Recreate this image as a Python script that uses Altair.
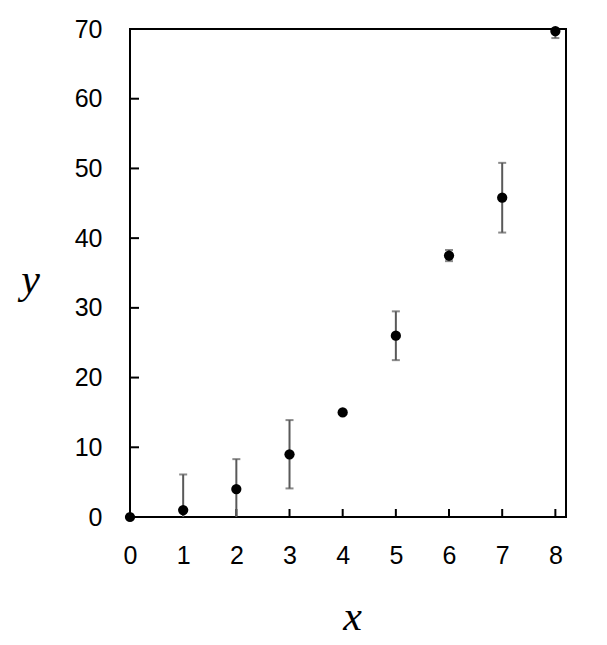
import altair as alt
import pandas as pd

x_vals = [0, 1, 2, 3, 4, 5, 6, 7, 8]
y_vals = [0.0, 1.0, 4.0, 9.0, 15.0, 26.0, 37.5, 45.8, 69.7]
y_err = [0.0, 5.1, 4.3, 4.9, 0.0, 3.5, 0.8, 5.0, 1.0]
x_ticks = [0, 1, 2, 3, 4, 5, 6, 7, 8]
y_ticks = [0, 10, 20, 30, 40, 50, 60, 70]

df = pd.DataFrame({"x": x_vals, "y": y_vals, "err": y_err})
df["lo"] = df["y"] - df["err"]
df["hi"] = df["y"] + df["err"]
df_err = df[df["err"] > 0]
df_xt = pd.DataFrame({"t": x_ticks})
df_yt = pd.DataFrame({"t": y_ticks})

xscale = alt.Scale(domain=[0, 8.2], nice=False, zero=False)
yscale = alt.Scale(domain=[0, 70], nice=False)

label_font = "Liberation Sans"
title_font = "Liberation Serif"

xaxis = alt.Axis(
    values=x_ticks, ticks=False, tickSize=0,
    domain=False, grid=False, labelFont=label_font, labelFontSize=25,
    labelColor="black", labelPadding=26, labelFlush=False,
    title="x", titleFont=title_font,
    titleFontStyle="italic", titleFontWeight="normal", titleFontSize=42,
    titleColor="black", titleX=222, titleY=99, titleBaseline="middle",
    titleAlign="center", titleAnchor="start",
)
yaxis = alt.Axis(
    values=y_ticks, ticks=False, tickSize=0,
    domain=False, grid=False, labelFont=label_font, labelFontSize=25,
    labelColor="black", labelPadding=28, labelFlush=False,
    title="y", titleFont=title_font,
    titleFontStyle="italic", titleFontWeight="normal", titleFontSize=42,
    titleColor="black", titleAngle=0, titleX=-100, titleY=250,
    titleBaseline="middle", titleAlign="center", titleAnchor="start",
)

points = alt.Chart(df).mark_circle(size=105, color="black", opacity=1).encode(
    x=alt.X("x:Q", scale=xscale, axis=xaxis),
    y=alt.Y("y:Q", scale=yscale, axis=yaxis),
)

# inward tick marks drawn from the tick lists
xt = alt.Chart(df_xt).mark_rule(color="black", strokeWidth=2).encode(
    x=alt.X("t:Q", scale=xscale),
    y=alt.value(480), y2=alt.value(488),
)
yt = alt.Chart(df_yt).mark_rule(color="black", strokeWidth=2).encode(
    y=alt.Y("t:Q", scale=yscale),
    x=alt.value(0), x2=alt.value(9),
)

bars = alt.Chart(df_err).mark_rule(color="#595959", strokeWidth=2, clip=True).encode(
    x=alt.X("x:Q", scale=xscale),
    y=alt.Y("lo:Q", scale=yscale),
    y2="hi:Q",
)
caps_lo = alt.Chart(df_err).mark_tick(
    color="#595959", thickness=2, size=8, orient="horizontal", clip=True
).encode(x=alt.X("x:Q", scale=xscale), y=alt.Y("lo:Q", scale=yscale))
caps_hi = alt.Chart(df_err).mark_tick(
    color="#595959", thickness=2, size=8, orient="horizontal", clip=True
).encode(x=alt.X("x:Q", scale=xscale), y=alt.Y("hi:Q", scale=yscale))

chart = (
    alt.layer(xt, yt, bars, caps_lo, caps_hi, points)
    .properties(
        width=436, height=488,
        autosize=alt.AutoSizeParams(type="none"),
        padding={"left": 122, "top": 21, "right": 25, "bottom": 120},
        background="white",
    )
    .configure_view(stroke="black", strokeWidth=2)
)

chart.save("out.html", embed_options={"renderer": "svg", "actions": False})
